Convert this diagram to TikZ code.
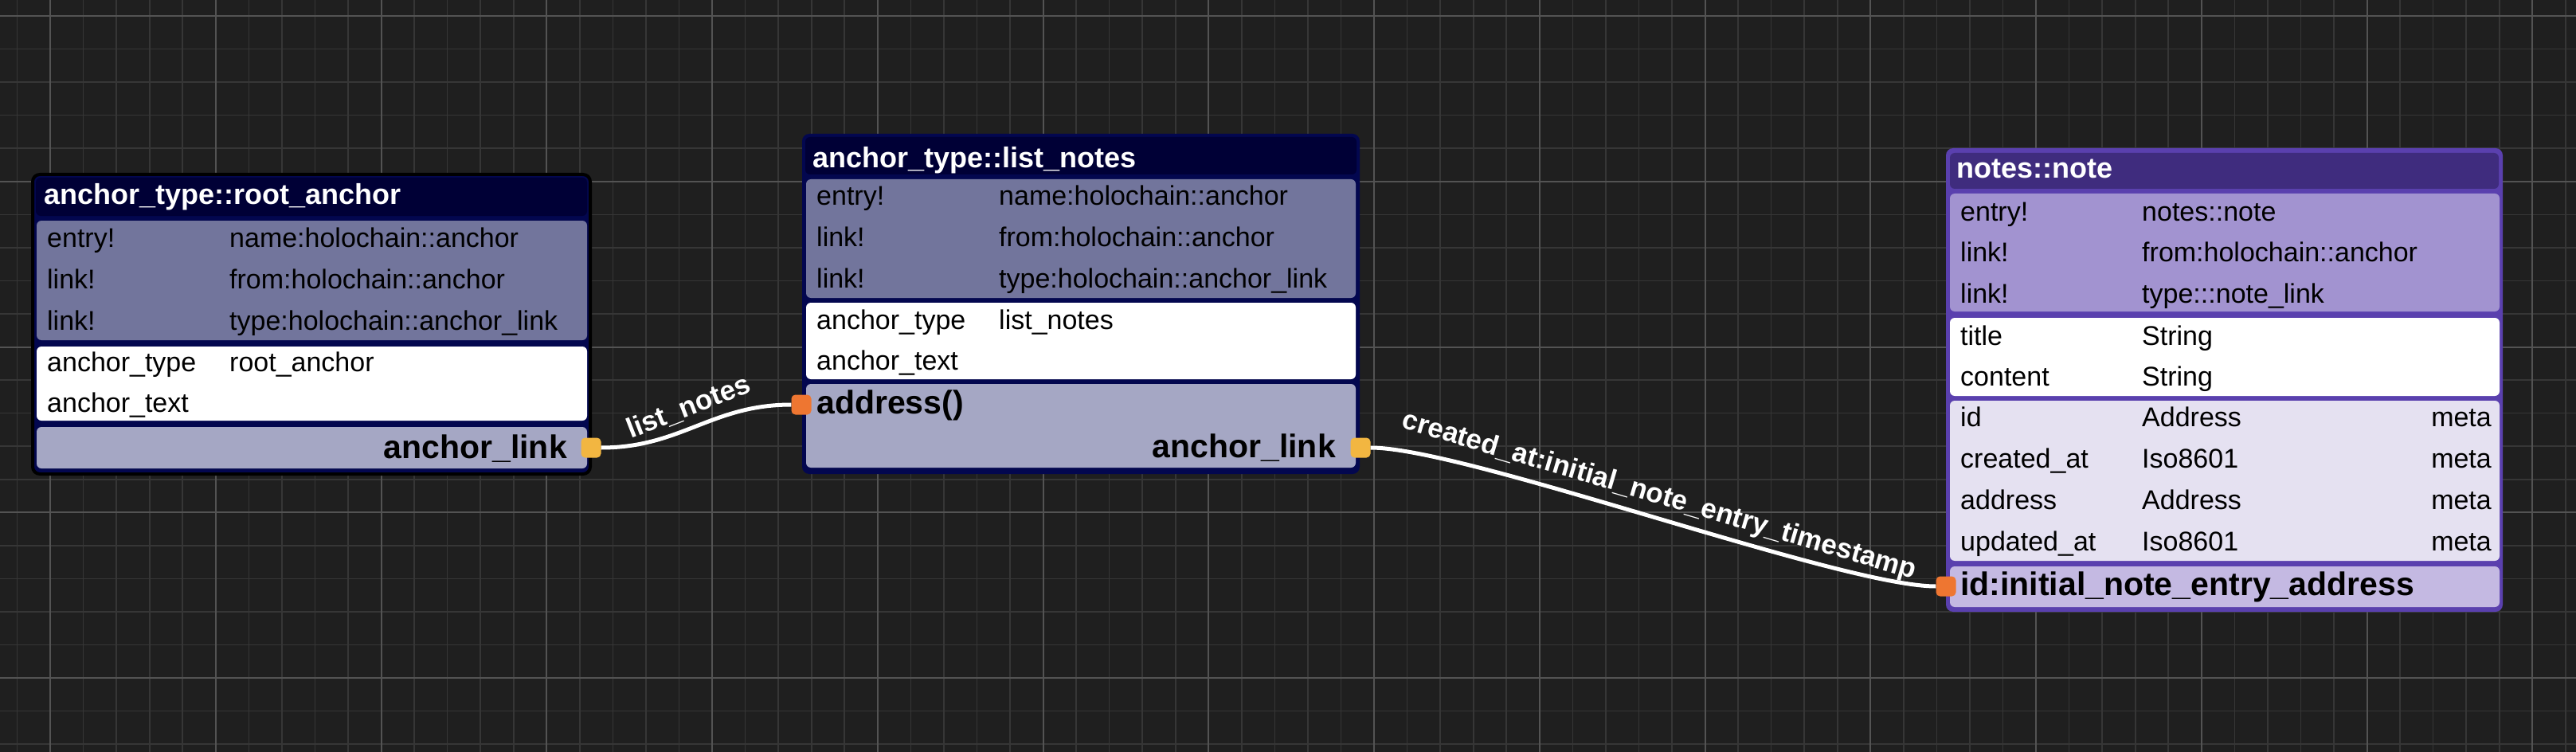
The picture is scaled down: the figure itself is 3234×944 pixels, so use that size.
\documentclass[tikz,border=0pt]{standalone}
\usepackage{fontspec}
\setmainfont{Liberation Sans}
\definecolor{bgc}{HTML}{1F1F1F}
\definecolor{gridminor}{HTML}{363636}
\definecolor{gridmajor}{HTML}{535353}
\definecolor{navyframe}{HTML}{03074F}
\definecolor{navytitle}{HTML}{000036}
\definecolor{navysec}{HTML}{72759C}
\definecolor{navybot}{HTML}{A5A7C4}
\definecolor{purpframe}{HTML}{5A40AE}
\definecolor{purptitle}{HTML}{3F2C7E}
\definecolor{purpsec}{HTML}{A293D0}
\definecolor{purpmeta}{HTML}{E5E1F1}
\definecolor{purpbot}{HTML}{C4B9E2}
\definecolor{portyellow}{HTML}{F2B641}
\definecolor{portorange}{HTML}{EE7631}
\begin{document}
\begin{tikzpicture}[x=1pt,y=-1pt,
  minorline/.style={draw=gridminor,line width=1.6pt},
  majorline/.style={draw=gridmajor,line width=2pt},
  secbox/.style={rounded corners=6pt},
  rowtext/.style={anchor=base west,inner sep=0pt,text=black,font=\fontsize{34}{40}\selectfont},
  rowright/.style={anchor=base east,inner sep=0pt,text=black,font=\fontsize{34}{40}\selectfont},
  titletext/.style={anchor=base west,inner sep=0pt,text=white,font=\bfseries\fontsize{36}{42}\selectfont},
  bigtext/.style={anchor=base west,inner sep=0pt,text=black,font=\bfseries\fontsize{41}{48}\selectfont},
  bigright/.style={anchor=base east,inner sep=0pt,text=black,font=\bfseries\fontsize{41}{48}\selectfont},
  port/.style={rectangle,rounded corners=5pt,minimum width=25pt,minimum height=25pt,inner sep=0pt},
  wire/.style={draw=white,line width=5pt},
  wirelabel/.style={text=white,inner sep=2pt,font=\bfseries\fontsize{35}{40}\selectfont}]
\useasboundingbox (0,0) rectangle (3234,944);
\fill[bgc] (0,0) rectangle (3234,944);
% grid
\foreach \k in {0,...,77} {\pgfmathsetmacro\xx{21.5+41.55*\k}\draw[minorline] (\xx,0) -- (\xx,944);}
\foreach \k in {0,...,22} {\pgfmathsetmacro\yy{20+41.55*\k}\draw[minorline] (0,\yy) -- (3234,\yy);}
\foreach \k in {0,...,15} {\pgfmathsetmacro\xx{63+207.75*\k}\draw[majorline] (\xx,0) -- (\xx,944);}
\foreach \k in {0,...,4} {\pgfmathsetmacro\yy{20+207.75*\k}\draw[majorline] (0,\yy) -- (3234,\yy);}

% ---------- node 1: anchor_type::root_anchor ----------
\draw[line width=4pt,draw=black,fill=navyframe,rounded corners=9pt] (41,219) rectangle (741,595);
\fill[navytitle,secbox] (45,223) rectangle (737,271);
\fill[navysec,secbox] (46,277) rectangle (737,427);
\fill[white,secbox] (46,435) rectangle (737,528);
\fill[navybot,secbox] (46,536) rectangle (737,588);
\node[titletext] (n1title) at (55,257) {anchor\_type::root\_anchor};
\node[rowtext] (n1r1a) at (59,310) {entry!};
\node[rowtext] (n1r1b) at (288,310) {name:holochain::anchor};
\node[rowtext] (n1r2a) at (59,362) {link!};
\node[rowtext] (n1r2b) at (288,362) {from:holochain::anchor};
\node[rowtext] (n1r3a) at (59,414) {link!};
\node[rowtext] (n1r3b) at (288,414) {type:holochain::anchor\_link};
\node[rowtext] (n1r4a) at (59,466) {anchor\_type};
\node[rowtext] (n1r4b) at (288,466) {root\_anchor};
\node[rowtext] (n1r5a) at (59,517) {anchor\_text};
\node[bigright] (n1out) at (712,575) {anchor\_link};
\node[port,fill=portyellow] (p1out) at (742,562) {};

% ---------- node 2: anchor_type::list_notes ----------
\fill[navyframe,rounded corners=9pt] (1007,168) rectangle (1707,595);
\fill[navytitle,secbox] (1011,172) rectangle (1703,219);
\fill[navysec,secbox] (1012,225) rectangle (1702,374);
\fill[white,secbox] (1012,380) rectangle (1702,476);
\fill[navybot,secbox] (1012,482) rectangle (1702,587);
\node[titletext] (n2title) at (1020,211) {anchor\_type::list\_notes};
\node[rowtext] (n2r1a) at (1025,258) {entry!};
\node[rowtext] (n2r1b) at (1254,258) {name:holochain::anchor};
\node[rowtext] (n2r2a) at (1025,309.5) {link!};
\node[rowtext] (n2r2b) at (1254,309.5) {from:holochain::anchor};
\node[rowtext] (n2r3a) at (1025,361) {link!};
\node[rowtext] (n2r3b) at (1254,361) {type:holochain::anchor\_link};
\node[rowtext] (n2r4a) at (1025,413) {anchor\_type};
\node[rowtext] (n2r4b) at (1254,413) {list\_notes};
\node[rowtext] (n2r5a) at (1025,464) {anchor\_text};
\node[bigtext] (n2in) at (1025,519) {address()};
\node[bigright] (n2out) at (1677,574) {anchor\_link};
\node[port,fill=portorange] (p2in) at (1006,508) {};
\node[port,fill=portyellow] (p2out) at (1708,562) {};

% ---------- node 3: notes::note ----------
\fill[purpframe,rounded corners=9pt] (2443,186) rectangle (3142,768);
\fill[purptitle,secbox] (2448,192) rectangle (3137,237);
\fill[purpsec,secbox] (2448,243) rectangle (3138,391);
\fill[white,secbox] (2448,399) rectangle (3138,497);
\fill[purpmeta,secbox] (2448,503) rectangle (3138,704);
\fill[purpbot,secbox] (2448,711) rectangle (3138,762);
\node[titletext] (n3title) at (2456,224) {notes::note};
\node[rowtext] (n3r1a) at (2461,277) {entry!};
\node[rowtext] (n3r1b) at (2689,277) {notes::note};
\node[rowtext] (n3r2a) at (2461,328.5) {link!};
\node[rowtext] (n3r2b) at (2689,328.5) {from:holochain::anchor};
\node[rowtext] (n3r3a) at (2461,380) {link!};
\node[rowtext] (n3r3b) at (2689,380) {type:::note\_link};
\node[rowtext] (n3r4a) at (2461,433) {title};
\node[rowtext] (n3r4b) at (2689,433) {String};
\node[rowtext] (n3r5a) at (2461,484) {content};
\node[rowtext] (n3r5b) at (2689,484) {String};
\node[rowtext] (n3m1a) at (2461,535) {id};
\node[rowtext] (n3m1b) at (2689,535) {Address};
\node[rowright] (n3m1c) at (3128,535) {meta};
\node[rowtext] (n3m2a) at (2461,587) {created\_at};
\node[rowtext] (n3m2b) at (2689,587) {Iso8601};
\node[rowright] (n3m2c) at (3128,587) {meta};
\node[rowtext] (n3m3a) at (2461,639) {address};
\node[rowtext] (n3m3b) at (2689,639) {Address};
\node[rowright] (n3m3c) at (3128,639) {meta};
\node[rowtext] (n3m4a) at (2461,691) {updated\_at};
\node[rowtext] (n3m4b) at (2689,691) {Iso8601};
\node[rowright] (n3m4c) at (3128,691) {meta};
\node[bigtext] (n3in) at (2461,747) {id:initial\_note\_entry\_address};
\node[port,fill=portorange] (p3in) at (2443,736) {};

% ---------- connectors ----------
\draw[wire] (p1out.east) .. controls +(100,0) and +(-100,0) .. (p2in.west)
  node[pos=0.5,sloped,above=6pt,wirelabel] {list\_notes};
\draw[wire] (p2out.east) .. controls +(120,0) and +(-120,0) .. (p3in.west)
  node[pos=0.5,sloped,above=6pt,wirelabel] {created\_at:initial\_note\_entry\_timestamp};
\end{tikzpicture}
\end{document}
